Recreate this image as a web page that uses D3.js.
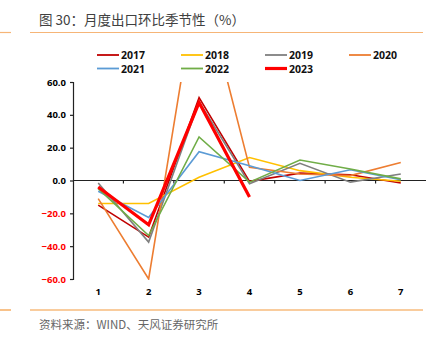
<!DOCTYPE html>
<html>
<head>
<meta charset="utf-8">
<script src="https://cdn.jsdelivr.net/npm/d3@7"></script>
<style>
  body { margin: 0; background: #fff; }
  svg { display: block; font-family: "Noto Sans CJK SC", "Noto Sans", sans-serif; }
</style>
</head>
<body>
<script>
// months on the x axis
const months = [1, 2, 3, 4, 5, 6, 7];
const yTicks = [60, 40, 20, 0, -20, -40, -60];

// month-on-month export change, %
const y2017 = [-15, -34.5, 50.5, -0.5, 4.5, 3.5, -1.5];
const y2018 = [-14, -14, 2, 14, 6, 2, -0.5];
const y2019 = [-1.5, -37.5, 48, -2, 10.5, -1, 4];
const y2020 = [-11, -60, 128, 8, 4, 3, 11];
const y2021 = [-6.5, -22.5, 17.5, 9, 0, 6.5, 0.5];
const y2022 = [-5, -33.5, 26.5, -1, 12.5, 7, 1];
const y2023 = [-4, -27, 47.5, -10];

const series = [
  {name: '2017', values: y2017, color: '#c00000', w: 1.6},
  {name: '2018', values: y2018, color: '#ffc000', w: 1.6},
  {name: '2019', values: y2019, color: '#7f7f7f', w: 1.6},
  {name: '2020', values: y2020, color: '#ed7d31', w: 1.6},
  {name: '2021', values: y2021, color: '#5b9bd5', w: 1.6},
  {name: '2022', values: y2022, color: '#70ad47', w: 1.6},
  {name: '2023', values: y2023, color: '#ff0000', w: 3.2}
];

const W = 440, H = 344;
const margin = {top: 82, right: 14, bottom: 65, left: 73};
const width = W - margin.left - margin.right;
const height = H - margin.top - margin.bottom;

const svg = d3.select('body').append('svg')
    .attr('width', W)
    .attr('height', H);

// title and the orange rules
svg.append('text')
    .attr('x', 39).attr('y', 25)
    .attr('font-size', 13.5)
    .attr('fill', '#404040')
    .text('图 30：月度出口环比季节性（%）');

[32.5, 310].forEach(function(y, i) {
  svg.append('line').attr('x1', 30).attr('x2', 423).attr('y1', y).attr('y2', y)
      .attr('stroke', i ? '#f39a3c' : '#f6b577').attr('stroke-width', 1.2);
  svg.append('line').attr('x1', 0).attr('x2', 11).attr('y1', y).attr('y2', y)
      .attr('stroke', i ? '#f39a3c' : '#f6b577').attr('stroke-width', 1.2);
});

svg.append('text')
    .attr('x', 39).attr('y', 329)
    .attr('font-size', 11.5)
    .attr('fill', '#666')
    .text('资料来源：WIND、天风证券研究所');

const g = svg.append('g')
    .attr('transform', 'translate(' + margin.left + ',' + margin.top + ')');

const xScale = d3.scaleBand()
    .domain(months)
    .range([0, width]);

const yScale = d3.scaleLinear()
    .domain([-60, 60])
    .range([height, 0]);

// y axis
const yAxis = d3.axisLeft(yScale)
    .tickValues(yTicks)
    .tickSize(3)
    .tickFormat(d3.format('.1f'));

const yg = g.append('g').call(yAxis);
yg.select('.domain').attr('stroke', '#222').attr('stroke-width', 1.2);
yg.selectAll('.tick line').attr('stroke', '#222').attr('stroke-width', 1.2);
yg.selectAll('.tick text')
    .attr('x', -7)
    .attr('font-size', 9.5)
    .attr('font-weight', 'bold')
    .attr('font-family', '"Open Sans", sans-serif')
    .attr('fill', function(d) { return d < 0 ? '#ff0000' : '#000'; });

// x axis drawn along zero, labels at the bottom
g.append('line')
    .attr('x1', 0).attr('x2', width)
    .attr('y1', yScale(0)).attr('y2', yScale(0))
    .attr('stroke', '#222').attr('stroke-width', 1.2);

g.selectAll('.xtick')
    .data(months.slice(1))
  .enter().append('line')
    .attr('x1', function(d) { return xScale(d); })
    .attr('x2', function(d) { return xScale(d); })
    .attr('y1', yScale(0)).attr('y2', yScale(0) + 3)
    .attr('stroke', '#222').attr('stroke-width', 1.2);

g.selectAll('.xlabel')
    .data(months)
  .enter().append('text')
    .attr('x', function(d) { return xScale(d) + xScale.bandwidth() / 2; })
    .attr('y', height + 16)
    .attr('text-anchor', 'middle')
    .attr('font-size', 9.5)
    .attr('font-weight', 'bold')
    .attr('font-family', '"Open Sans", sans-serif')
    .attr('fill', '#000')
    .text(function(d) { return d; });

// lines, clipped to the plot
g.append('clipPath').attr('id', 'plot')
  .append('rect')
    .attr('x', 0).attr('y', 0)
    .attr('width', width).attr('height', height + 1);

const line = d3.line()
    .x(function(d, i) { return xScale(months[i]) + xScale.bandwidth() / 2; })
    .y(function(d) { return yScale(d); });

g.append('g').attr('clip-path', 'url(#plot)')
  .selectAll('path')
    .data(series)
  .enter().append('path')
    .attr('fill', 'none')
    .attr('stroke', function(d) { return d.color; })
    .attr('stroke-width', function(d) { return d.w; })
    .attr('stroke-linejoin', 'miter')
    .attr('d', function(d) { return line(d.values); });

// legend, two rows of four
const legend = svg.append('g');
const item = legend.selectAll('g')
    .data(series)
  .enter().append('g')
    .attr('transform', function(d, i) {
      return 'translate(' + (97 + (i % 4) * 84) + ',' + (55 + Math.floor(i / 4) * 13.5) + ')';
    });

item.append('line')
    .attr('x1', 0).attr('x2', 22)
    .attr('stroke', function(d) { return d.color; })
    .attr('stroke-width', function(d) { return d.w === 1.6 ? 1.8 : 3.2; });

item.append('text')
    .attr('x', 24)
    .attr('y', 4)
    .attr('font-size', 10.5)
    .attr('font-weight', 'bold')
    .attr('font-family', '"Open Sans", sans-serif')
    .attr('fill', '#111')
    .text(function(d) { return d.name; });
</script>
</body>
</html>
